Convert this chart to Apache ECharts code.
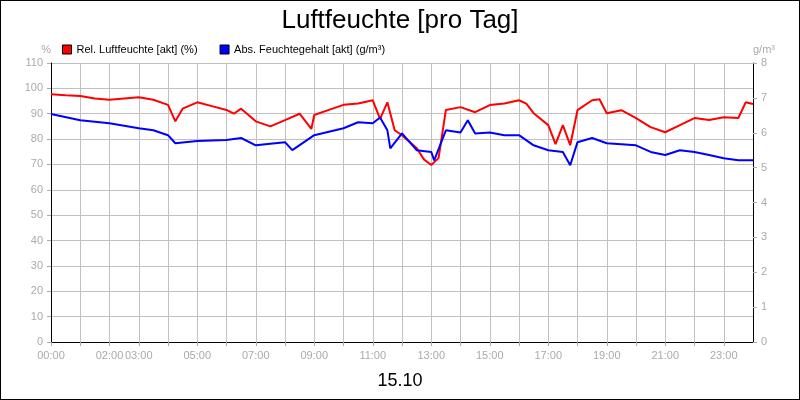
<!DOCTYPE html>
<html><head><meta charset="utf-8">
<script src="https://cdn.jsdelivr.net/npm/echarts@6/dist/echarts.min.js"></script>
<style>html,body{margin:0;padding:0;background:#fff}#c{width:798px;height:398px;border:1px solid #000}</style>
</head><body><div id="c"></div>
<script>
const relTimes=[0,0.5,1,1.5,2,2.5,3,3.5,4,4.25,4.5,5,5.5,6,6.25,6.5,7,7.5,8,8.5,8.9,9,9.5,10,10.5,11,11.25,11.5,11.75,12,12.5,12.75,13,13.25,13.5,14,14.5,15,15.5,16,16.25,16.5,17,17.25,17.5,17.75,18,18.5,18.75,19,19.5,20,20.5,21,21.5,22,22.5,23,23.5,23.75,24];
const relValues=[97.7,97.3,97,96,95.5,96,96.5,95.5,93.5,87,92,94.5,93,91.5,90,92,87,85,87.5,90,84,89.5,91.5,93.5,94,95.3,88,94.5,83.5,81.5,76.5,72,69.8,72.5,91.5,92.6,90.6,93.4,94,95.3,94,90.2,85.5,78,85.5,77.6,91.4,95.3,95.7,90.2,91.4,88.3,84.7,82.7,85.5,88.3,87.5,88.6,88.3,94.5,93.8];
const absTimes=[0,1,2,3,3.5,4,4.25,5,6,6.5,7,8,8.25,9,10,10.5,11,11.25,11.5,11.6,12,12.5,13,13.1,13.5,14,14.25,14.5,15,15.5,16,16.5,17,17.5,17.75,18,18.5,19,20,20.5,21,21.5,22,22.5,23,23.5,24];
const absValues=[6.54,6.36,6.27,6.13,6.07,5.93,5.70,5.76,5.79,5.85,5.64,5.73,5.50,5.93,6.13,6.30,6.27,6.44,6.07,5.55,5.98,5.50,5.45,5.21,6.07,6.01,6.36,5.98,6.01,5.93,5.93,5.64,5.50,5.45,5.07,5.73,5.85,5.70,5.64,5.45,5.36,5.50,5.45,5.36,5.27,5.21,5.21];
const shownHours=[0,2,3,5,7,9,11,13,15,17,19,21,23];
const gray='#aaa';
const ch=echarts.init(document.getElementById('c'));
ch.setOption({
 animation:false,
 title:[{text:'Luftfeuchte [pro Tag]',left:'center',top:2,textStyle:{fontFamily:'Liberation Sans',fontSize:26,fontWeight:'normal',color:'#000'}},
        {text:'15.10',left:'center',top:366,textStyle:{fontFamily:'Liberation Sans',fontSize:18,fontWeight:'normal',color:'#000'}}],
 legend:{left:56,top:38,itemWidth:9,itemHeight:9,itemGap:22,icon:'rect',textStyle:{fontFamily:'Liberation Sans',fontSize:11,color:'#000'},
   data:[{name:'Rel. Luftfeuchte [akt] (%)',itemStyle:{color:'#f00',borderColor:'#000',borderWidth:1}},{name:'Abs. Feuchtegehalt [akt] (g/m³)',itemStyle:{color:'#00f',borderColor:'#000',borderWidth:1}}]},
 grid:{left:50,right:46,top:62,bottom:57},
 xAxis:{type:'value',min:0,max:24,interval:1,
   axisLine:{lineStyle:{color:'#000'}},axisTick:{lineStyle:{color:gray},length:4},
   splitLine:{lineStyle:{color:'#c0c0c0'}},
   axisLabel:{color:gray,fontFamily:'Liberation Sans',fontSize:11,showMaxLabel:false,
     formatter:v=>shownHours.includes(v)?String(v).padStart(2,'0')+':00':''}},
 yAxis:[{type:'value',min:0,max:110,interval:10,name:'%',nameGap:8,nameTextStyle:{color:gray,fontSize:11,align:'right'},
   axisLine:{show:true,lineStyle:{color:'#000'}},axisTick:{show:true,lineStyle:{color:gray},length:4},
   splitLine:{lineStyle:{color:'#c0c0c0'}},axisLabel:{color:gray,fontFamily:'Liberation Sans',fontSize:11}},
  {type:'value',min:0,max:8,interval:1,name:'g/m³',nameGap:8,nameTextStyle:{color:gray,fontSize:11,align:'left'},
   axisLine:{show:true,lineStyle:{color:'#000'}},axisTick:{show:true,lineStyle:{color:gray},length:4},
   splitLine:{show:false},axisLabel:{color:gray,fontFamily:'Liberation Sans',fontSize:11}}],
 series:[
  {name:'Rel. Luftfeuchte [akt] (%)',type:'line',yAxisIndex:0,showSymbol:false,lineStyle:{color:'#f00',width:2},itemStyle:{color:'#f00'},
   data:relTimes.map((t,i)=>[t,relValues[i]])},
  {name:'Abs. Feuchtegehalt [akt] (g/m³)',type:'line',yAxisIndex:1,showSymbol:false,lineStyle:{color:'#00f',width:2},itemStyle:{color:'#00f'},
   data:absTimes.map((t,i)=>[t,absValues[i]])}
 ]
});
</script></body></html>
